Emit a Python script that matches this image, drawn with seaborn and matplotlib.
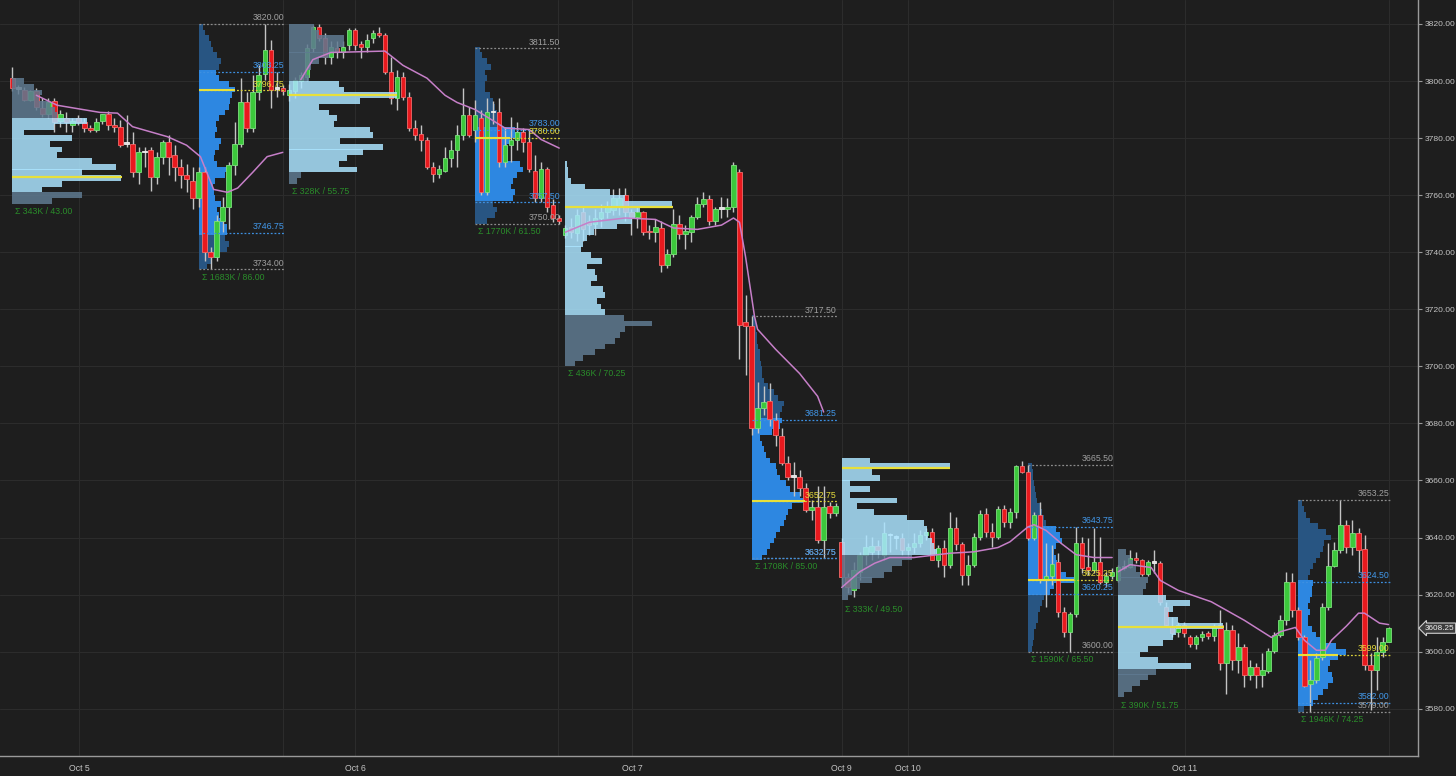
import matplotlib
matplotlib.use("Agg")
import matplotlib.pyplot as plt
import matplotlib.transforms as mtransforms
import numpy as np
import pandas as pd
import seaborn as sns

# 30 minute bars, bar 0 = Oct 4 18:00 (ES futures)
opens = [
    # ON Oct 4-5
    3801, 3797.5, 3797, 3793.5, 3796.5, 3790.5, 3788.5, 3793, 3786, 3787, 3784.5, 3787, 3785.5, 3783.5, 3783, 3786,
    3788.5, 3784.5, 3784, 3778, 3778, 3768, 3775.25, 3776, 3766.5, 3773.5, 3778.5, 3774, 3770, 3767, 3765,
    # RTH Oct 5
    3759, 3768, 3740, 3738.5, 3751, 3756, 3770.5, 3778, 3792.5, 3783.5, 3796, 3802.5, 3811, 3797.5, 3797.5,
    # ON Oct 5-6
    3795, 3796.5, 3800, 3801.5, 3811.5, 3819, 3815, 3808.5, 3811.5, 3810, 3812.5, 3818, 3813, 3812, 3815, 3817,
    3816, 3803, 3794, 3801.5, 3794.5, 3783.5, 3781.5, 3779.5, 3770, 3767.5, 3768.5, 3773, 3776, 3781, 3788,
    # RTH Oct 6
    3783, 3787, 3761, 3789, 3789, 3771.5, 3777.5, 3779.5, 3782, 3778.5, 3768.5, 3759, 3769, 3756.5, 3752,
    # ON Oct 6-7
    3746, 3749, 3746.75, 3754, 3751, 3750, 3752, 3754, 3754.75, 3755.75, 3760, 3754, 3752.5, 3754, 3747.5, 3747,
    3748.5, 3735.5, 3739.5, 3750, 3746.5, 3747, 3752.5, 3757, 3758.5, 3751, 3755.5, 3755.25, 3756, 3768, 3715.5,
    # RTH Oct 7
    3714, 3678.5, 3685.5, 3688, 3681.25, 3675.5, 3666, 3661.25, 3661.25, 3657.5, 3649.75, 3650.75, 3639.25, 3651, 3648.75,
    # ON Oct 9-10
    3638.5, 3626, 3621.75, 3628, 3634, 3635, 3637, 3634, 3641, 3640.25, 3640, 3635.5, 3636.75, 3638, 3641, 3642,
    3632.25, 3636.5, 3630.5, 3643.5, 3637.75, 3627, 3630.5, 3640.25, 3648.25, 3642, 3640.25, 3650, 3645.5, 3649, 3665,
    # RTH Oct 10
    3663, 3640, 3648, 3625.25, 3626.5, 3631.5, 3614, 3607, 3613.25, 3638.25, 3629.75, 3628.75, 3631.5, 3624.5, 3626.5,
    # ON Oct 10-11
    3625.25, 3629.75, 3629.75, 3633, 3632.25, 3627.25, 3631.5, 3631, 3615.5, 3608.5, 3606.75, 3609.25, 3605.25, 3602.75, 3605,
    3606.5, 3605.5, 3609.5, 3596, 3607.75, 3597.25, 3601.5, 3592, 3594.75, 3592, 3593.25, 3600.25, 3606, 3611.25, 3624.5,
    # RTH Oct 11
    3614.75, 3605, 3588.5, 3590, 3598.25, 3615.75, 3630, 3635.75, 3644.25, 3636.75, 3641.5, 3636, 3595.5, 3593.5, 3600, 3603.5,
]
highs = [
    3805, 3798.5, 3798, 3797, 3797.5, 3794, 3794, 3794, 3790, 3789, 3787, 3788, 3787, 3784.5, 3787, 3788.5,
    3789.5, 3787, 3786.5, 3788, 3782, 3777, 3777, 3777, 3775, 3779.5, 3781, 3777.5, 3772.5, 3771, 3770,
    3770, 3770, 3742, 3753, 3759.5, 3771.5, 3785.5, 3801, 3796, 3802, 3805.5, 3820, 3814.5, 3803, 3798.5,
    3799, 3801.5, 3803, 3813, 3819.5, 3820, 3817, 3814, 3814, 3814, 3818.5, 3818.5, 3814, 3816.5, 3818, 3819,
    3817, 3808.5, 3804, 3803, 3796, 3786.5, 3784.5, 3780.5, 3771.5, 3770.5, 3777, 3779.5, 3784.5, 3797.5, 3791,
    3793.5, 3790, 3794, 3793, 3794, 3784, 3787.5, 3785.5, 3783.5, 3783, 3774, 3771.5, 3770, 3758.5, 3753,
    3749.5, 3752, 3755, 3756, 3753, 3755, 3757, 3758, 3762, 3762.5, 3762.5, 3755, 3756, 3754.5, 3749.5, 3751.5,
    3751, 3741, 3755, 3753, 3749.5, 3753, 3759.5, 3761, 3760, 3756, 3759.5, 3759, 3771.5, 3769, 3725,
    3717.5, 3694.5, 3693, 3694, 3683.5, 3678.5, 3668.5, 3666.5, 3663.5, 3659, 3653, 3658, 3658, 3652.5, 3652,
    3640, 3627.5, 3631.5, 3635, 3641, 3640.25, 3639, 3645.5, 3641.5, 3641, 3641.5, 3638, 3641.5, 3642.75, 3643.5, 3643.5,
    3637.5, 3639.25, 3649, 3647.25, 3638.5, 3634, 3641.5, 3649.75, 3650.5, 3645, 3651, 3651.5, 3650.5, 3665.5, 3667,
    3665.5, 3649, 3652.5, 3638.25, 3637.5, 3634.5, 3615.75, 3614, 3643.75, 3640.25, 3640, 3643.5, 3640.25, 3628, 3629.5,
    3630.5, 3632, 3635.5, 3635, 3632.5, 3632, 3635.5, 3631.75, 3617.25, 3612, 3610.25, 3610.25, 3606, 3606, 3607.25,
    3607.25, 3609.75, 3614.75, 3610.25, 3609.5, 3606.5, 3602.75, 3597.25, 3596, 3599.5, 3601.25, 3607, 3613, 3628, 3627.5,
    3615.75, 3606, 3597.25, 3599.5, 3617, 3638.25, 3638.5, 3653.25, 3646, 3646, 3643.5, 3641, 3599.5, 3605, 3605, 3608.75,
]
lows = [
    3796.5, 3795.5, 3793, 3793, 3790, 3787.5, 3787, 3782, 3784, 3782, 3782, 3784.5, 3782, 3782, 3782, 3785,
    3783, 3782, 3777, 3777, 3766.5, 3764, 3770, 3761.5, 3764, 3771, 3767, 3765, 3762.5, 3761, 3755,
    3756, 3737, 3734, 3737, 3747, 3748, 3767, 3777, 3782, 3782, 3793.5, 3800.5, 3790.5, 3794.5, 3795,
    3793, 3794, 3797.5, 3800, 3810, 3814, 3806, 3806, 3808, 3808, 3811, 3811, 3808, 3810, 3813.5, 3815.5,
    3802.5, 3792, 3790, 3793.5, 3782.5, 3779.5, 3775.5, 3769, 3764.5, 3766, 3768, 3770, 3770, 3779.5, 3780.5,
    3778.5, 3760, 3760, 3785, 3770, 3770, 3771.5, 3776, 3775, 3768, 3757.5, 3757.5, 3754, 3750.5, 3750,
    3745, 3745, 3744, 3744, 3746, 3746, 3749, 3752, 3753, 3753, 3751, 3746, 3748.5, 3746, 3744.5, 3743.5,
    3733, 3734.5, 3738.5, 3744.5, 3741, 3743.5, 3751.5, 3756, 3749.5, 3749.5, 3752, 3752.5, 3754, 3702.5, 3697,
    3676, 3676.5, 3683, 3679, 3672, 3665.5, 3660, 3654.5, 3654.5, 3649, 3646, 3638, 3632.75, 3647, 3647.5,
    3623, 3620.5, 3619.25, 3625, 3630.5, 3632.25, 3633, 3632.25, 3635, 3636, 3634, 3633, 3634.5, 3636.75, 3639.25, 3632,
    3629.75, 3626.25, 3629.5, 3635.75, 3623.5, 3623.5, 3629.75, 3639.25, 3640.25, 3636.75, 3639.5, 3643.75, 3643.5, 3647, 3662.5,
    3639.25, 3639.25, 3624, 3615.75, 3623.5, 3612.25, 3605, 3600, 3612.25, 3627.5, 3627, 3627.5, 3623.75, 3622.75, 3625.5,
    3624.5, 3628.5, 3629.5, 3631, 3626.5, 3626.5, 3627.5, 3616.5, 3609, 3605.25, 3605.25, 3605.25, 3601.75, 3601, 3603.75,
    3604.5, 3603.75, 3593.5, 3585, 3593.5, 3592.5, 3587.75, 3590, 3587.25, 3587.75, 3592.5, 3599.5, 3605, 3609.5, 3612.25,
    3604.25, 3587.75, 3579, 3589, 3597.25, 3614.75, 3629.75, 3634.5, 3634.5, 3634, 3628, 3593.5, 3579.5, 3586.5, 3598, 3603.25,
]
closes = [
    3797.5, 3797.25, 3793.5, 3796.5, 3791, 3788.5, 3792.5, 3785.5, 3788.5, 3785.5, 3786, 3785.5, 3783.5, 3783, 3785.5, 3788.5,
    3784.5, 3784, 3777.5, 3778.25, 3768, 3775, 3775, 3766.5, 3773.5, 3778.5, 3773.5, 3770, 3767, 3765.5, 3759,
    3768, 3740, 3738.5, 3751, 3756, 3770.5, 3778, 3792.5, 3783.5, 3796, 3802, 3811, 3797, 3797.25, 3796.5,
    3797, 3800.5, 3802, 3811.5, 3819, 3815, 3808.5, 3812, 3810, 3812, 3818, 3812.5, 3812, 3814.5, 3817, 3816,
    3803, 3794, 3801.5, 3794.5, 3783.5, 3781, 3779.5, 3770, 3767.5, 3769, 3773, 3776, 3781, 3788, 3781,
    3788, 3761, 3789, 3789.25, 3771.5, 3777.5, 3779.5, 3782, 3778.5, 3769, 3759, 3769, 3756, 3752, 3751,
    3748.5, 3747, 3753, 3748, 3749.5, 3752, 3754, 3756, 3759, 3759, 3754, 3752.5, 3754, 3747, 3747, 3749,
    3735.5, 3739.5, 3750, 3746.5, 3747.5, 3752.5, 3757, 3758.5, 3751, 3755, 3755.25, 3756, 3770.5, 3714.5, 3714,
    3678.5, 3685.5, 3687.5, 3681.5, 3676, 3666, 3661.25, 3661.5, 3657.5, 3649.75, 3650.75, 3639.25, 3650.75, 3648.75, 3651,
    3626.25, 3622.5, 3628.75, 3634, 3636.75, 3637, 3635.5, 3641.5, 3640.75, 3640, 3635.5, 3636.75, 3638, 3641, 3642, 3632.25,
    3636.5, 3630.5, 3643.5, 3637.75, 3627, 3630.5, 3640.25, 3648.25, 3642, 3640.25, 3650, 3645.5, 3649, 3665, 3663,
    3640, 3648, 3625.25, 3626.5, 3630.75, 3614, 3607, 3613.25, 3638.25, 3629.5, 3628.75, 3631.5, 3624.5, 3626.5, 3628,
    3629.75, 3629.5, 3633, 3632, 3627.25, 3631.5, 3631.25, 3617.25, 3609.5, 3606.5, 3609.25, 3606.5, 3602.75, 3605, 3606.25,
    3605.5, 3609, 3596, 3607.75, 3597.25, 3601.5, 3592, 3594.75, 3592, 3593.5, 3600.25, 3606, 3611.25, 3624.5, 3614.75,
    3605, 3588, 3590, 3597.75, 3615.75, 3630, 3635.75, 3644.25, 3636.75, 3641.5, 3635.5, 3595.5, 3593.5, 3600, 3603.5, 3608.25,
]

# sessions (overnight / regular hours), first and last bar
sess_kind = ["ON", "RTH", "ON", "RTH", "ON", "RTH", "ON", "RTH", "ON", "RTH"]
sess_first = [0, 31, 46, 77, 92, 123, 138, 169, 184, 214]
sess_last = [30, 45, 76, 91, 122, 137, 168, 183, 213, 229]
sess_sigma = ["Σ 343K / 43.00", "Σ 1683K / 86.00", "Σ 328K / 55.75", "Σ 1770K / 61.50", "Σ 436K / 70.25",
              "Σ 1708K / 85.00", "Σ 333K / 49.50", "Σ 1590K / 65.50", "Σ 390K / 51.75", "Σ 1946K / 74.25"]

# volume profiles, rows of 2 points starting at prof_lo (volume in drawn pixels)
prof_lo = [3757, 3734, 3764, 3750, 3700, 3632, 3618, 3600, 3584, 3579]
prof_vol = [
    [40, 70, 30, 50, 109, 70, 104, 80, 45, 50, 38, 60, 12, 42, 75, 45, 43, 38, 27, 30, 22, 12],
    [8, 12, 20, 28, 30, 26, 28, 28, 24, 20, 18, 22, 16, 15, 14, 16, 26, 28, 18, 15, 16, 20, 22, 16, 18, 17, 20,
     26, 30, 31, 33, 36, 30, 20, 17, 20, 22, 18, 14, 12, 10, 6, 4],
    [8, 12, 68, 50, 58, 74, 94, 51, 84, 81, 45, 48, 40, 30, 71, 108, 55, 50, 20, 18, 22, 30, 40, 50, 55, 55, 30, 25],
    [12, 20, 22, 18, 38, 40, 36, 38, 42, 48, 45, 30, 28, 32, 35, 51, 40, 25, 24, 22, 20, 18, 15, 10, 10, 12, 10,
     16, 12, 7, 5],
    [10, 18, 30, 40, 50, 55, 60, 87, 59, 40, 36, 32, 40, 38, 26, 32, 30, 22, 37, 26, 16, 18, 22, 29, 52, 67, 70,
     75, 107, 60, 45, 20, 6, 3, 3, 2],
    [10, 15, 18, 22, 24, 28, 32, 34, 36, 40, 53, 48, 38, 34, 28, 25, 24, 18, 14, 12, 10, 8, 20, 28, 30, 28, 30,
     32, 26, 22, 16, 12, 10, 10, 9, 8, 8, 6, 5, 5, 4, 4, 3],
    [6, 10, 18, 30, 42, 50, 60, 70, 95, 92, 90, 86, 85, 82, 65, 32, 15, 55, 8, 28, 8, 38, 30, 108, 28],
    [4, 5, 6, 6, 8, 10, 10, 12, 14, 16, 22, 26, 46, 38, 32, 29, 28, 26, 28, 34, 32, 28, 18, 16, 14, 12, 9, 8, 7,
     6, 5, 5, 4],
    [6, 14, 22, 30, 38, 73, 40, 22, 30, 45, 55, 58, 105, 60, 50, 55, 72, 48, 25, 28, 30, 22, 18, 15, 12, 8],
    [6, 15, 20, 25, 30, 35, 34, 30, 32, 40, 48, 38, 22, 18, 14, 10, 10, 12, 10, 12, 14, 14, 15, 10, 12, 15, 18,
     22, 25, 26, 33, 28, 20, 12, 8, 6, 4],
]
prof_high = [3801, 3820.00, 3819.75, 3811.50, 3770.5, 3717.50, 3667, 3665.50, 3635.75, 3653.25]
prof_vah = [3786.5, 3803.25, 3799.75, 3783.00, 3771, 3681.25, 3668, 3643.75, 3619.25, 3624.50]
prof_poc = [3766.5, 3796.75, 3795, 3780.00, 3756, 3652.75, 3664.25, 3625.25, 3608.75, 3599.00]
prof_val = [3761, 3746.75, 3767.5, 3757.50, 3718.75, 3632.75, 3635, 3620.25, 3594.25, 3582.00]
prof_low = [3757, 3734.00, 3764, 3750.00, 3700.25, 3632.75, 3617.5, 3600.00, 3584, 3579.00]

# session vwap, read at a few bars per trading day
vwap_bars = [
    [4, 7.5, 14.6, 17.5, 20, 25.8, 29, 31.3, 33.5, 35.8, 37.5, 40, 42.4, 45],
    [48, 50, 53, 62, 65, 69, 72, 74, 77, 82, 86, 88, 91],
    [92, 96, 102, 107, 110, 114, 118, 120, 121, 122, 123.5, 124, 127, 131, 134, 135],
    [138, 141, 143.5, 146, 150, 156, 160, 164, 166, 169, 170, 172, 174.5, 177, 180, 183],
    [184, 186, 189.5, 191, 194, 199.5, 205, 209.5, 211, 213.5, 215, 217, 218.5, 219.5, 222, 224, 225, 227.5, 229],
]
vwap_px = [
    [3795, 3791.5, 3789, 3788.75, 3784, 3780.5, 3777.5, 3773.5, 3762, 3761, 3762.5, 3768, 3773.5, 3775],
    [3800.5, 3807.5, 3810, 3810.5, 3805.5, 3801, 3795, 3792.5, 3790, 3783.5, 3783, 3779.5, 3776.5],
    [3747, 3750.5, 3752, 3751.5, 3748.5, 3748, 3749.5, 3752, 3750.5, 3738.5, 3717.5, 3713, 3706, 3697.5, 3689.5, 3684],
    [3622.5, 3628, 3631, 3633, 3633, 3634.5, 3635, 3636.5, 3638.5, 3643.75, 3644.5, 3642.5, 3638, 3634, 3633, 3633],
    [3628, 3630.5, 3629.5, 3625, 3621.5, 3617.5, 3611, 3605, 3607, 3608.5, 3604, 3600.5, 3600.5, 3604, 3609,
     3613.5, 3613.5, 3610, 3609.5],
]

day_ticks = [11.1, 57.1, 103.1, 138.0, 149.1, 195.1]
day_labels = ["Oct 5", "Oct 6", "Oct 7", "Oct 9", "Oct 10", "Oct 11"]
close_ticks = [45.1, 90.8, 183.1, 229.1]
last_price = closes[-1]

# ---- style
BG = "#1e1e1e"
GRID = "#2c2c2c"
TXT = "#c4c4c4"
sns.set_theme(style="dark", rc={"axes.facecolor": BG, "figure.facecolor": BG, "savefig.facecolor": BG})
plt.rcParams["font.family"] = ["Liberation Sans", "DejaVu Sans"]

fig = plt.figure(figsize=(14.56, 7.76), dpi=100)
ax = fig.add_axes([0, 0.026, 0.9739, 0.974])
ax.set_facecolor(BG)
ax.set_xlim(-2.05, 233.9)
ax.set_ylim(3563.5, 3828.4)

px2bar = 1 / 6.01   # profile widths are in pixels, bars are 6 px apart

o = np.array(opens)
h = np.array(highs)
l = np.array(lows)
c = np.array(closes)
x = np.arange(len(o))

# candles
up = c > o + 0.3
dn = c < o - 0.3
body_col = np.where(up, "#3cc83c", np.where(dn, "#e8191e", "#e0e0e0"))
edge_col = np.where(up, "#7ee07e", np.where(dn, "#f26a6a", "#f0f0f0"))
ax.vlines(x, l, h, color="#c4c4c4", lw=1, zorder=3)
ax.bar(x, np.maximum(np.abs(c - o), 0.5), bottom=np.minimum(o, c), width=0.74,
       color=body_col, edgecolor=edge_col, linewidth=0.6, zorder=4)

# profiles
above = mtransforms.offset_copy(ax.transData, fig=fig, y=1.2, units="points")
below = mtransforms.offset_copy(ax.transData, fig=fig, y=-2.5, units="points")
for i in range(len(sess_kind)):
    vol = np.array(prof_vol[i], dtype=float)
    rows = prof_lo[i] + 2 * np.arange(len(vol)) + 1
    inva = (rows >= prof_val[i]) & (rows <= prof_vah[i])
    left = sess_first[i]
    wid = vol * px2bar
    if sess_kind[i] == "ON":
        cols = np.where(inva, "#abe4ff", "#5f7a91")
        ax.barh(rows, wid, height=2.02, left=left, color=cols, alpha=0.85, lw=0, zorder=5)
        ax.hlines(prof_poc[i], left, left + wid.max() + 0.1, color="#e8e03a", lw=1.6, zorder=6)
    else:
        right = sess_last[i] + 0.2
        cols = np.where(inva, "#2d87e1", "#285582")
        ax.barh(rows, wid, height=2.02, left=left, color=cols, lw=0, zorder=2)
        pw = wid[np.argmin(np.abs(rows - prof_poc[i]))]
        dots = (0, (1.5, 1.5))
        ax.hlines([prof_high[i], prof_low[i]], left, right, color="#8c8c8c", lw=0.9, linestyles=dots, zorder=6)
        ax.hlines([prof_vah[i], prof_val[i]], left, right, color="#3d8fe0", lw=0.9, linestyles=dots, zorder=6)
        ax.hlines(prof_poc[i], left, right, color="#d8cf3a", lw=0.9, linestyles=dots, zorder=6)
        ax.hlines(prof_poc[i], left, left + pw, color="#e8e03a", lw=1.5, zorder=6)
        for val, col in [(prof_high[i], "#a0a0a0"), (prof_low[i], "#a0a0a0"), (prof_vah[i], "#4298ea"),
                         (prof_val[i], "#4298ea"), (prof_poc[i], "#e6dc3c")]:
            ax.text(right, val, f"{val:.2f}", ha="right", va="bottom", color=col, fontsize=6.3,
                    transform=above, zorder=8)
    ax.text(left + 0.5, prof_low[i], sess_sigma[i], ha="left", va="top", color="#2a8c2a",
            fontsize=6.3, transform=below, zorder=8)

# vwap
vw = pd.DataFrame({
    "bar": np.concatenate(vwap_bars),
    "price": np.concatenate(vwap_px),
    "day": np.concatenate([[k] * len(b) for k, b in enumerate(vwap_bars)]),
})
sns.lineplot(data=vw, x="bar", y="price", units="day", estimator=None, sort=False,
             color="#c67fc8", lw=1.1, ax=ax, zorder=7, legend=False)

# axes
ax.set_xlabel("")
ax.set_ylabel("")
ax.yaxis.tick_right()
yt = np.arange(3580, 3821, 20)
ax.set_yticks(yt)
ax.set_yticklabels([f"{v:.2f}" for v in yt])
ax.set_xticks(day_ticks)
ax.set_xticklabels(day_labels)
ax.set_xticks(close_ticks, minor=True)
ax.tick_params(axis="both", which="major", colors="#9a9a9a", labelcolor=TXT, labelsize=6.3,
               length=3, width=0.8, direction="out", pad=3)
ax.tick_params(axis="y", which="major", labelsize=6.1, pad=1.5)
ax.tick_params(axis="x", which="minor", length=0)
ax.grid(True, which="major", color=GRID, lw=0.8)
ax.grid(True, which="minor", axis="x", color=GRID, lw=0.8)
for side in ["top", "left"]:
    ax.spines[side].set_visible(False)
for side in ["right", "bottom"]:
    ax.spines[side].set_visible(True)
    ax.spines[side].set_color("#9a9a9a")
    ax.spines[side].set_linewidth(1)

# last price tag
tag = mtransforms.blended_transform_factory(ax.transAxes, ax.transData)
ax.text(1.0045, last_price, f"{last_price:.2f}", transform=tag, ha="left", va="center", fontsize=5.9,
        color="#f0f0f0", clip_on=False, zorder=10,
        bbox=dict(boxstyle="larrow,pad=0.2", fc="#3c3c3c", ec="#d0d0d0", lw=0.8))

fig.savefig("out.png", dpi=100, facecolor=BG)
